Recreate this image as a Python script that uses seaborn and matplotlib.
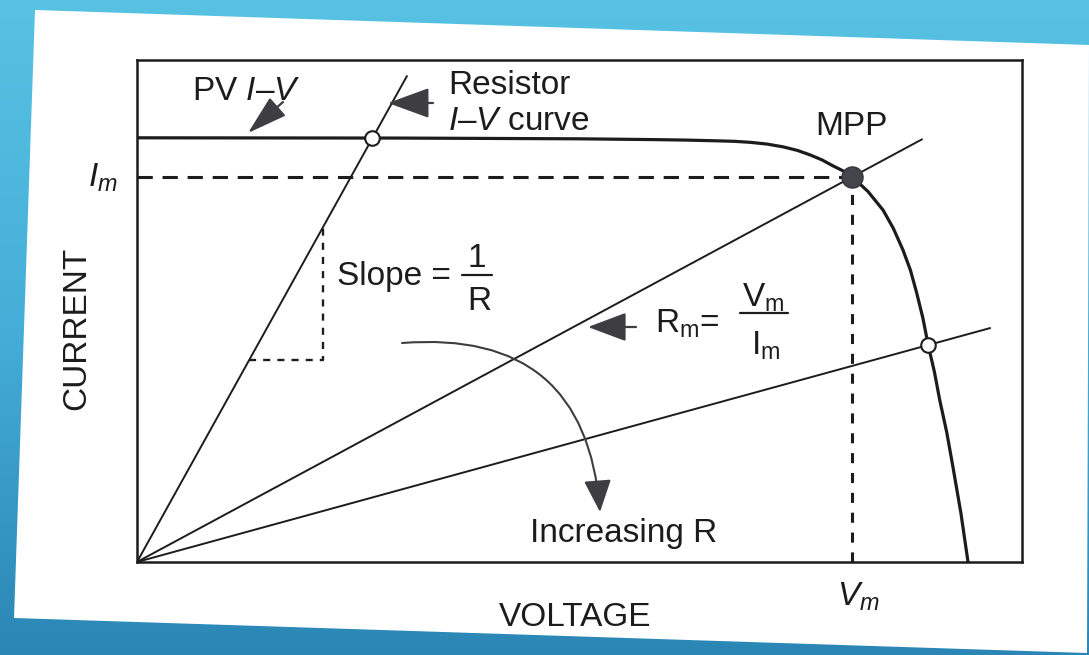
import numpy as np
import pandas as pd
import matplotlib
matplotlib.use("Agg")
import matplotlib.pyplot as plt
import seaborn as sns
from matplotlib.patches import FancyArrowPatch, Polygon
from matplotlib.colors import LinearSegmentedColormap

# ---------------- data (voltage / current in chart units 0-100) ----------------
pv_voltage = [0, 29.7, 50.0, 58.0, 62.0, 65.5, 67.5, 69.3, 71.2, 73.0, 74.6, 76.05, 77.4,
              78.6, 79.8, 80.8, 82.6, 84.3, 85.45, 86.55, 87.4, 88.1, 88.8, 89.4, 90.1,
              90.7, 91.5, 92.2, 93.1, 93.9]
pv_current = [84.5, 84.45, 84.3, 84.15, 84.05, 83.9, 83.8, 83.6, 83.25, 82.7, 82.0, 81.1, 80.1,
              78.95, 77.9, 76.75, 73.8, 70.1, 66.5, 62.15, 58.1, 53.6, 48.6, 43.2, 37.9,
              32.3, 25.8, 18.9, 9.7, 0]

resistor_names = ["R1", "Rm", "R3"]
resistor_end_voltage = [30.5, 88.7, 96.4]
resistor_end_current = [96.8, 84.2, 46.6]

op_voltage = [26.6, 89.4]      # open circles
op_current = [84.4, 43.2]
mpp_voltage = 80.8             # maximum power point
mpp_current = 76.75
slope_box_v = [12.7, 21.0]     # slope triangle corners (on resistor line 1)

# ---------------- style ----------------
sns.set_theme(style="white")
plt.rcParams["font.family"] = ["Liberation Sans", "DejaVu Sans"]
plt.rcParams["mathtext.fontset"] = "custom"
plt.rcParams["mathtext.rm"] = "Liberation Sans"
plt.rcParams["mathtext.it"] = "Liberation Sans:italic"
plt.rcParams["mathtext.bf"] = "Liberation Sans:bold"

W, H = 1089, 655
INK = "#1c1c1c"
HEAD = "#3d3d42"
FS = 24

fig = plt.figure(figsize=(W / 100, H / 100), dpi=100)

# background: blue gradient + tilted white paper
bg = fig.add_axes([0, 0, 1, 1], zorder=0)
cmap = LinearSegmentedColormap.from_list("bluegrad", ["#58C2E3", "#45AED8", "#2B86B5"])
grad = np.linspace(0, 1, 256).reshape(-1, 1) * np.ones((1, 4))
bg.imshow(grad, cmap=cmap, aspect="auto", extent=[0, W, H, 0])
bg.add_patch(Polygon([(35, 10), (1089, 45), (1087, 653), (14, 618)], closed=True,
                     facecolor="white", edgecolor="none"))
bg.set_xlim(0, W)
bg.set_ylim(H, 0)
bg.axis("off")

# main chart axes
ax = fig.add_axes([137 / W, (H - 562) / H, 885 / W, 502 / H], zorder=1)
ax.set_facecolor("none")
ax.set_xlim(0, 100)
ax.set_ylim(0, 100)
ax.set_xticks([])
ax.set_yticks([])
for s in ax.spines.values():
    s.set_visible(True)
    s.set_color(INK)
    s.set_linewidth(1.8)

# PV I-V curve
sns.lineplot(x=pv_voltage, y=pv_current, sort=False, estimator=None, color=INK,
             linewidth=2.3, ax=ax, zorder=3, solid_joinstyle="round", solid_capstyle="round")

# resistor load lines from origin
for name, ve, ie in zip(resistor_names, resistor_end_voltage, resistor_end_current):
    sns.lineplot(x=[0, ve], y=[0, ie], sort=False, estimator=None, color=INK,
                 linewidth=1.4, ax=ax, zorder=3)

# dashed guides to MPP
ax.plot([0, mpp_voltage], [mpp_current, mpp_current], color=INK, lw=2.2,
        dashes=(5, 3.2), zorder=2)
ax.plot([mpp_voltage, mpp_voltage], [0, mpp_current], color=INK, lw=2.2,
        dashes=(3.3, 3.2), zorder=2)

# slope triangle on first resistor line
k1 = resistor_end_current[0] / resistor_end_voltage[0]
y_lo = k1 * slope_box_v[0]
y_hi = k1 * slope_box_v[1]
ax.plot([slope_box_v[0], slope_box_v[1], slope_box_v[1]], [y_lo, y_lo, y_hi],
        color=INK, lw=1.7, dashes=(3, 3), zorder=2)

# operating points
sns.scatterplot(x=op_voltage, y=op_current, s=110, facecolor="white",
                edgecolor=INK, linewidth=1.5, ax=ax, zorder=4)
sns.scatterplot(x=[mpp_voltage], y=[mpp_current], s=230, color="#44444c",
                edgecolor="#333338", linewidth=1, ax=ax, zorder=5)

# overlay for annotations in pixel coordinates
ov = fig.add_axes([0, 0, 1, 1], zorder=2)
ov.set_facecolor("none")
ov.set_xlim(0, W)
ov.set_ylim(H, 0)
ov.axis("off")

def txt(x, y, s, **kw):
    kw.setdefault("ha", "left")
    kw.setdefault("va", "baseline")
    ov.text(x, y, s, fontsize=kw.pop("fs", FS), color=INK, **kw)

def arrow(a, b, hl, hw, rad=0.0, lw=1.6):
    ov.add_patch(FancyArrowPatch(a, b, arrowstyle=f"-|>,head_length={hl},head_width={hw}",
                                 connectionstyle=f"arc3,rad={rad}", mutation_scale=10,
                                 color=HEAD, lw=lw, shrinkA=0, shrinkB=0))

txt(192, 100, "PV $I$–$V$")
arrow((283, 102), (248, 133), 2.5, 0.75)

txt(448, 94, "Resistor")
txt(448, 130, "$I$–$V$ curve")
arrow((433, 103), (388, 103), 2.6, 0.95)

txt(815, 135, "MPP")

txt(337, 285, "Slope =")
txt(477, 267, "1", ha="center")
ov.plot([462, 492], [275, 275], color=INK, lw=1.6)
txt(479, 310, "R", ha="center")

arrow((636, 327), (588, 327), 2.4, 0.9)
txt(655, 333, r"R$_{\mathrm{m}}$=")
ov.plot([740, 788], [313, 313], color=INK, lw=1.6)
txt(763, 307, r"V$_{\mathrm{m}}$", ha="center")
txt(766, 355, r"I$_{\mathrm{m}}$", ha="center")

arrow((402, 343), (600, 512), 2.0, 0.85, rad=-0.5, lw=1.5)
txt(530, 542, "Increasing R")

txt(575, 626, "VOLTAGE", ha="center")
txt(837, 606, "$V_m$")
txt(88, 187, "$I_m$")
txt(77, 328, "CURRENT", rotation=90, ha="center", va="center")

fig.savefig("out.png", dpi=100)
